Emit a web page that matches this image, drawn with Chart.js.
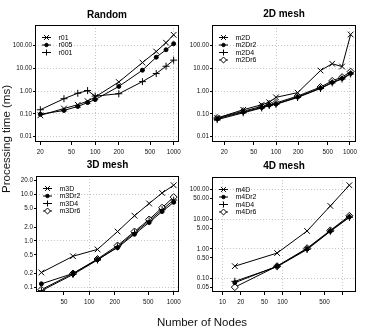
<!DOCTYPE html>
<html>
<head>
<meta charset="utf-8">
<script src="https://cdn.jsdelivr.net/npm/chart.js@4.4.0/dist/chart.umd.min.js"></script>
<style>
  html, body { margin: 0; padding: 0; background: #fff; }
  #wrap { position: relative; width: 379px; height: 329px; overflow: hidden;
          font-family: "Liberation Sans", Arial, sans-serif; color: #111; }
  .panel { position: absolute; }
  .ylab { position: absolute; left: 6px; top: 139px; white-space: nowrap; font-size: 11.5px;
          transform: translate(-50%, -50%) rotate(-90deg); }
  .xlab { position: absolute; left: 202px; top: 322px; white-space: nowrap; font-size: 11.5px;
          transform: translate(-50%, -50%); }
</style>
</head>
<body>
<div id="wrap">
  <canvas id="p1" class="panel" width="190" height="160" style="left:0;top:0"></canvas>
  <canvas id="p2" class="panel" width="189" height="160" style="left:190px;top:0"></canvas>
  <canvas id="p3" class="panel" width="190" height="169" style="left:0;top:160px"></canvas>
  <canvas id="p4" class="panel" width="189" height="169" style="left:190px;top:160px"></canvas>
  <div class="ylab">Processing time (ms)</div>
  <div class="xlab">Number of Nodes</div>
</div>
<script>
// Random topologies
const randomNodes = [20, 40, 60, 80, 100, 200, 400, 600, 800, 1000];
const r01  = [0.085, 0.17, 0.25, 0.36, 0.55, 2.5, 18, 55, 135, 300];
const r005 = [0.095, 0.14, 0.21, 0.31, 0.42, 1.6, 8.3, 31, 66, 122];
const r001 = [0.15, 0.46, 0.8, 1.05, 0.6, 0.76, 2.6, 5.9, 12.4, 23];

// 2D mesh
const mesh2Nodes = [16, 36, 64, 81, 100, 196, 400, 576, 784, 1024];
const m2D   = [0.065, 0.15, 0.25, 0.32, 0.53, 0.85, 8, 16, 12, 310];
const m2Dr2 = [0.06, 0.12, 0.19, 0.24, 0.27, 0.55, 1.35, 2.4, 3.6, 6];
const m2D4  = [0.055, 0.11, 0.18, 0.23, 0.26, 0.52, 1.3, 2.3, 3.4, 5.7];
const m2Dr6 = [0.065, 0.13, 0.21, 0.27, 0.3, 0.6, 1.5, 2.8, 4.1, 7.2];

// 3D mesh
const mesh3Nodes = [27, 64, 125, 216, 343, 512, 729, 1000];
const m3D   = [0.21, 0.47, 0.66, 1.6, 3.5, 6.4, 10.8, 15.8];
const m3Dr2 = [0.12, 0.2, 0.4, 0.72, 1.4, 2.5, 4.3, 6.8];
const m3D4  = [0.085, 0.19, 0.39, 0.75, 1.5, 2.7, 4.7, 7.6];
const m3Dr6 = [0.09, 0.2, 0.41, 0.8, 1.6, 2.9, 5.2, 8.8];

// 4D mesh
const mesh4Nodes = [16, 81, 256, 625, 1296];
const m4D   = [0.26, 0.72, 4.0, 28, 140];
const m4Dr2 = [0.072, 0.26, 1.0, 4.0, 12];
const m4D4  = [0.08, 0.25, 0.95, 3.9, 11.5];
const m4Dr6 = [0.051, 0.26, 1.05, 4.2, 13];

// tick values
const randomXTicks = [20, 50, 100, 200, 500, 1000];
const mesh2XTicks = [20, 50, 100, 200, 500, 1000];
const mesh3XTicks = [50, 100, 200, 500, 1000];
const mesh4XTicks = [10, 20, 50, 100, 200, 500, 1000];
const mesh4XHidden = [200, 1000];
const wideYTicks = [0.01, 0.1, 1, 10, 100];
const mesh3YTicks = [0.1, 0.2, 0.5, 1, 2, 5, 10, 20];
const mesh4YTicks = [0.05, 0.1, 0.5, 1, 5, 10, 50, 100];
const decades = [0.01, 0.1, 1, 10, 100, 1000];

const FONT = '"Liberation Sans", Arial, sans-serif';
const markerStyles = ['crossRot', 'circle', 'cross', 'rectRot'];
const markerRadius = [4, 2, 3.5, 3.5];
const markerFill = ['#000', '#000', '#000', '#fff'];

function series(label, xs, ys, i) {
    return {
        label: label,
        data: xs.map((x, k) => ({ x: x, y: ys[k] })),
        borderColor: '#000',
        borderWidth: 1,
        pointStyle: markerStyles[i],
        pointRadius: markerRadius[i],
        pointBorderColor: '#000',
        pointBorderWidth: 1,
        pointBackgroundColor: markerFill[i],
        tension: 0,
        fill: false
    };
}

function logAxis(min, max, ticks, labelFn, isX, size) {
    return {
        type: 'logarithmic',
        min: min,
        max: max,
        afterBuildTicks: s => { s.ticks = ticks.map(v => ({ value: v })); },
        afterFit: s => { if (isX) s.height = size; else s.width = size; },
        border: { display: false, dash: [1, 2] },
        grid: {
            color: c => (c.tick && decades.includes(c.tick.value)) ? '#c6c6c6' : 'rgba(0,0,0,0)',
            tickColor: '#000',
            tickLength: isX ? 3 : 2,
            tickWidth: 1,
            lineWidth: 1
        },
        ticks: {
            autoSkip: false,
            maxRotation: 0,
            minRotation: 0,
            padding: isX ? 3 : 1,
            color: '#111',
            font: { family: FONT, size: 6.3 },
            callback: v => labelFn(v)
        }
    };
}

// box, title and legend drawn inside the plot region
const panelDecor = {
    id: 'panelDecor',
    afterDraw(chart, args, opts) {
        const { ctx, chartArea: a } = chart;
        ctx.save();
        ctx.strokeStyle = '#000';
        ctx.lineWidth = 1;
        ctx.strokeRect(Math.round(a.left) + 0.5, Math.round(a.top) + 0.5,
                       Math.round(a.right - a.left) - 1, Math.round(a.bottom - a.top) - 1);

        ctx.fillStyle = '#000';
        ctx.font = 'bold 10px ' + FONT;
        ctx.textAlign = 'center';
        ctx.textBaseline = 'middle';
        ctx.fillText(opts.title, (a.left + a.right) / 2, opts.titleY);

        ctx.font = '7px ' + FONT;
        ctx.textAlign = 'left';
        chart.data.datasets.forEach((ds, i) => {
            const y = a.top + 12.5 + i * 7.5;
            const x0 = a.left + 7, x1 = a.left + 16;
            ctx.strokeStyle = '#000';
            ctx.lineWidth = 1;
            ctx.beginPath();
            ctx.moveTo(x0, y);
            ctx.lineTo(x1, y);
            ctx.stroke();
            ctx.fillStyle = ds.pointBackgroundColor;
            Chart.helpers.drawPoint(ctx, {
                pointStyle: ds.pointStyle,
                radius: ds.pointRadius * 0.85,
                borderWidth: 1,
                rotation: 0
            }, (x0 + x1) / 2, y);
            ctx.fillStyle = '#000';
            ctx.fillText(ds.label, a.left + 23.5, y + 0.5);
        });
        ctx.restore();
    }
};

function makePanel(id, p) {
    new Chart(document.getElementById(id), {
        type: 'line',
        data: { datasets: p.datasets },
        options: {
            responsive: false,
            animation: false,
            devicePixelRatio: 1,
            layout: { padding: { left: 0, top: p.padT, right: p.padR, bottom: 0 } },
            scales: {
                x: logAxis(p.xMin, p.xMax, p.xTicks, p.xLabel, true, p.xH),
                y: logAxis(p.yMin, p.yMax, p.yTicks, p.yLabel, false, p.yW)
            },
            plugins: {
                legend: { display: false },
                tooltip: { enabled: false },
                panelDecor: { title: p.title, titleY: p.titleY }
            }
        },
        plugins: [panelDecor]
    });
}

const plainX = v => String(v);

makePanel('p1', {
    title: 'Random', titleY: 15,
    padT: 25, padR: 11, yW: 35, xH: 18,
    xMin: 17.1, xMax: 1170, yMin: 0.0057, yMax: 813,
    xTicks: randomXTicks, yTicks: wideYTicks,
    xLabel: plainX, yLabel: v => v.toFixed(2),
    datasets: [
        series('r01', randomNodes, r01, 0),
        series('r005', randomNodes, r005, 1),
        series('r001', randomNodes, r001, 2)
    ]
});

makePanel('p2', {
    title: '2D mesh', titleY: 14.5,
    padT: 25, padR: 23, yW: 22, xH: 18,
    xMin: 13.6, xMax: 1210, yMin: 0.0057, yMax: 813,
    xTicks: mesh2XTicks, yTicks: wideYTicks,
    xLabel: plainX, yLabel: v => v.toFixed(2),
    datasets: [
        series('m2D', mesh2Nodes, m2D, 0),
        series('m2Dr2', mesh2Nodes, m2Dr2, 1),
        series('m2D4', mesh2Nodes, m2D4, 2),
        series('m2Dr6', mesh2Nodes, m2Dr6, 3)
    ]
});

makePanel('p3', {
    title: '3D mesh', titleY: 5.5,
    padT: 16, padR: 11, yW: 36, xH: 37,
    xMin: 23.3, xMax: 1156, yMin: 0.08, yMax: 25,
    xTicks: mesh3XTicks, yTicks: mesh3YTicks,
    xLabel: plainX, yLabel: v => v.toFixed(1),
    datasets: [
        series('m3D', mesh3Nodes, m3D, 0),
        series('m3Dr2', mesh3Nodes, m3Dr2, 1),
        series('m3D4', mesh3Nodes, m3D4, 2),
        series('m3Dr6', mesh3Nodes, m3Dr6, 3)
    ]
});

makePanel('p4', {
    title: '4D mesh', titleY: 6,
    padT: 17, padR: 23, yW: 22, xH: 37,
    xMin: 6.66, xMax: 1672, yMin: 0.035, yMax: 265,
    xTicks: mesh4XTicks, yTicks: mesh4YTicks,
    xLabel: v => mesh4XHidden.includes(v) ? '' : String(v),
    yLabel: v => v.toFixed(2),
    datasets: [
        series('m4D', mesh4Nodes, m4D, 0),
        series('m4Dr2', mesh4Nodes, m4Dr2, 1),
        series('m4D4', mesh4Nodes, m4D4, 2),
        series('m4Dr6', mesh4Nodes, m4Dr6, 3)
    ]
});
</script>
</body>
</html>
